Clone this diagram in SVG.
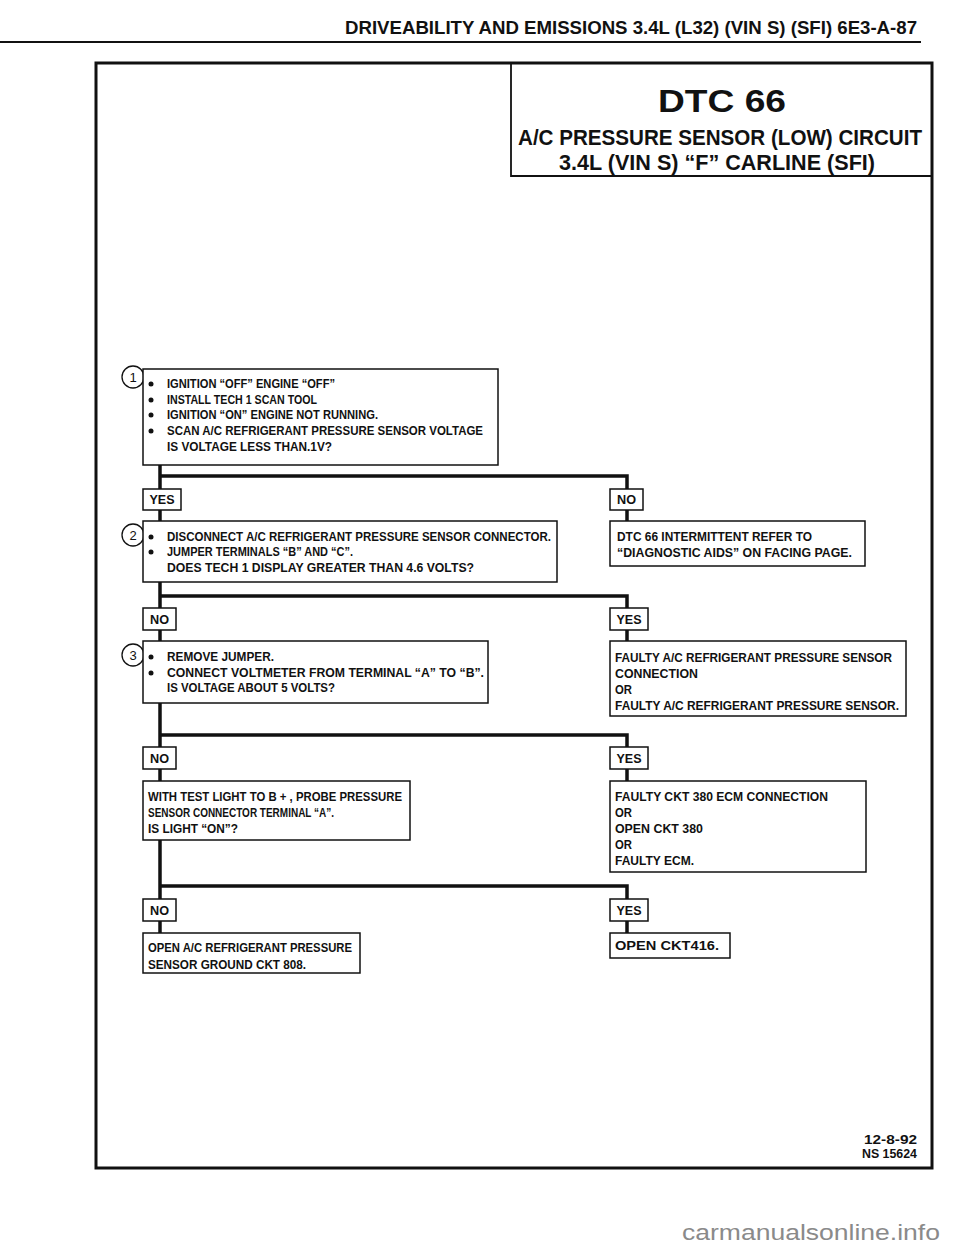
<svg xmlns="http://www.w3.org/2000/svg" width="960" height="1250" viewBox="0 0 960 1250">
<style>
text{font-family:"Liberation Sans",Arial,sans-serif;font-weight:bold;fill:#111}
.t{font-size:12.5px}
.lbl{font-size:12px;text-anchor:middle}
.box{fill:#fff;stroke:#111;stroke-width:1.5}
.conn{stroke:#111;stroke-width:3.5;fill:none}
.circ{fill:#fff;stroke:#111;stroke-width:1.3}
.num{font-size:13px;font-weight:normal;text-anchor:middle}
.dot{fill:#111}
</style>
<rect width="960" height="1250" fill="#fff"/>
<g id="header">
<text x="345" y="34" font-size="19" textLength="572" lengthAdjust="spacingAndGlyphs">DRIVEABILITY AND EMISSIONS  3.4L  (L32)  (VIN S)  (SFI)  6E3-A-87</text>
<line x1="0" y1="42" x2="921" y2="42" stroke="#111" stroke-width="2"/>
</g>
<g id="frame">
<rect x="96" y="63" width="836" height="1105" fill="none" stroke="#111" stroke-width="3"/>
</g>
<g id="title">
<path d="M511 63 V176 H932" fill="none" stroke="#111" stroke-width="1.8"/>
<text x="722" y="112" font-size="32" text-anchor="middle" textLength="128" lengthAdjust="spacingAndGlyphs">DTC 66</text>
<text x="720" y="145" font-size="22" text-anchor="middle" textLength="404" lengthAdjust="spacingAndGlyphs">A/C PRESSURE SENSOR (LOW) CIRCUIT</text>
<text x="717" y="170" font-size="22" text-anchor="middle" textLength="316" lengthAdjust="spacingAndGlyphs">3.4L  (VIN S)  “F”  CARLINE  (SFI)</text>
</g>
<g id="connectors">
<path class="conn" d="M160 465 V521"/>
<path class="conn" d="M160 476 H627 V521"/>
<path class="conn" d="M160 582 V641"/>
<path class="conn" d="M160 596 H627 V641"/>
<path class="conn" d="M160 703 V781"/>
<path class="conn" d="M160 735 H627 V781"/>
<path class="conn" d="M160 840 V933"/>
<path class="conn" d="M160 886 H627 V933"/>
</g>
<g id="step1">
<circle class="circ" cx="133" cy="377" r="11"/>
<text class="num" x="133" y="382">1</text>
<rect class="box" x="143" y="369" width="355" height="96"/>
<circle class="dot" cx="151" cy="384" r="2.5"/><text class="t" x="167" y="388" textLength="168" lengthAdjust="spacingAndGlyphs">IGNITION “OFF” ENGINE “OFF”</text>
<circle class="dot" cx="151" cy="400" r="2.5"/><text class="t" x="167" y="404" textLength="150" lengthAdjust="spacingAndGlyphs">INSTALL TECH 1 SCAN TOOL</text>
<circle class="dot" cx="151" cy="415" r="2.5"/><text class="t" x="167" y="419" textLength="211" lengthAdjust="spacingAndGlyphs">IGNITION “ON” ENGINE NOT RUNNING.</text>
<circle class="dot" cx="151" cy="431" r="2.5"/><text class="t" x="167" y="435" textLength="316" lengthAdjust="spacingAndGlyphs">SCAN A/C REFRIGERANT PRESSURE SENSOR VOLTAGE</text>
<text class="t" x="167" y="451" textLength="165" lengthAdjust="spacingAndGlyphs">IS VOLTAGE LESS THAN.1V?</text>
</g>
<g id="yes1">
<rect class="box" x="143" y="489" width="38" height="21"/>
<text class="lbl" x="162" y="504" textLength="25" lengthAdjust="spacingAndGlyphs">YES</text>
</g>
<g id="no1">
<rect class="box" x="610" y="489" width="33" height="21"/>
<text class="lbl" x="626.5" y="504" textLength="19" lengthAdjust="spacingAndGlyphs">NO</text>
</g>
<g id="step2">
<circle class="circ" cx="133" cy="535" r="11"/>
<text class="num" x="133" y="540">2</text>
<rect class="box" x="143" y="521" width="414" height="61"/>
<circle class="dot" cx="151" cy="537" r="2.5"/><text class="t" x="167" y="541" textLength="384" lengthAdjust="spacingAndGlyphs">DISCONNECT A/C REFRIGERANT PRESSURE SENSOR CONNECTOR.</text>
<circle class="dot" cx="151" cy="552" r="2.5"/><text class="t" x="167" y="556" textLength="186" lengthAdjust="spacingAndGlyphs">JUMPER TERMINALS “B” AND “C”.</text>
<text class="t" x="167" y="572" textLength="307" lengthAdjust="spacingAndGlyphs">DOES TECH 1 DISPLAY GREATER THAN 4.6 VOLTS?</text>
</g>
<g id="intermittent">
<rect class="box" x="610" y="521" width="255" height="45"/>
<text class="t" x="617" y="541" textLength="195" lengthAdjust="spacingAndGlyphs">DTC 66 INTERMITTENT REFER TO</text>
<text class="t" x="617" y="557" textLength="235" lengthAdjust="spacingAndGlyphs">“DIAGNOSTIC AIDS” ON FACING PAGE.</text>
</g>
<g id="no2">
<rect class="box" x="143" y="608" width="33" height="22"/>
<text class="lbl" x="159.5" y="624" textLength="19" lengthAdjust="spacingAndGlyphs">NO</text>
</g>
<g id="yes2">
<rect class="box" x="610" y="608" width="38" height="22"/>
<text class="lbl" x="629" y="624" textLength="25" lengthAdjust="spacingAndGlyphs">YES</text>
</g>
<g id="step3">
<circle class="circ" cx="133" cy="655" r="11"/>
<text class="num" x="133" y="660">3</text>
<rect class="box" x="143" y="641" width="345" height="62"/>
<circle class="dot" cx="151" cy="657" r="2.5"/><text class="t" x="167" y="661" textLength="107" lengthAdjust="spacingAndGlyphs">REMOVE JUMPER.</text>
<circle class="dot" cx="151" cy="673" r="2.5"/><text class="t" x="167" y="677" textLength="317" lengthAdjust="spacingAndGlyphs">CONNECT VOLTMETER FROM TERMINAL “A” TO “B”.</text>
<text class="t" x="167" y="692" textLength="168" lengthAdjust="spacingAndGlyphs">IS VOLTAGE  ABOUT 5 VOLTS?</text>
</g>
<g id="faulty-sensor">
<rect class="box" x="610" y="641" width="296" height="75"/>
<text class="t" x="615" y="662" textLength="277" lengthAdjust="spacingAndGlyphs">FAULTY A/C REFRIGERANT PRESSURE SENSOR</text>
<text class="t" x="615" y="678" textLength="83" lengthAdjust="spacingAndGlyphs">CONNECTION</text>
<text class="t" x="615" y="694" textLength="17" lengthAdjust="spacingAndGlyphs">OR</text>
<text class="t" x="615" y="710" textLength="284" lengthAdjust="spacingAndGlyphs">FAULTY A/C REFRIGERANT PRESSURE SENSOR.</text>
</g>
<g id="no3">
<rect class="box" x="143" y="747" width="33" height="22"/>
<text class="lbl" x="159.5" y="763" textLength="19" lengthAdjust="spacingAndGlyphs">NO</text>
</g>
<g id="yes3">
<rect class="box" x="610" y="747" width="38" height="22"/>
<text class="lbl" x="629" y="763" textLength="25" lengthAdjust="spacingAndGlyphs">YES</text>
</g>
<g id="step4">
<rect class="box" x="143" y="781" width="267" height="59"/>
<text class="t" x="148" y="801" textLength="254" lengthAdjust="spacingAndGlyphs">WITH TEST LIGHT TO B + , PROBE PRESSURE</text>
<text class="t" x="148" y="817" textLength="186" lengthAdjust="spacingAndGlyphs">SENSOR CONNECTOR TERMINAL “A”.</text>
<text class="t" x="148" y="833" textLength="90" lengthAdjust="spacingAndGlyphs">IS LIGHT “ON”?</text>
</g>
<g id="faulty-ckt380">
<rect class="box" x="610" y="781" width="256" height="91"/>
<text class="t" x="615" y="801" textLength="213" lengthAdjust="spacingAndGlyphs">FAULTY CKT 380 ECM CONNECTION</text>
<text class="t" x="615" y="817" textLength="17" lengthAdjust="spacingAndGlyphs">OR</text>
<text class="t" x="615" y="833" textLength="88" lengthAdjust="spacingAndGlyphs">OPEN CKT 380</text>
<text class="t" x="615" y="849" textLength="17" lengthAdjust="spacingAndGlyphs">OR</text>
<text class="t" x="615" y="865" textLength="79" lengthAdjust="spacingAndGlyphs">FAULTY ECM.</text>
</g>
<g id="no4">
<rect class="box" x="143" y="899" width="33" height="22"/>
<text class="lbl" x="159.5" y="915" textLength="19" lengthAdjust="spacingAndGlyphs">NO</text>
</g>
<g id="yes4">
<rect class="box" x="610" y="899" width="38" height="22"/>
<text class="lbl" x="629" y="915" textLength="25" lengthAdjust="spacingAndGlyphs">YES</text>
</g>
<g id="open-ground">
<rect class="box" x="143" y="933" width="217" height="40"/>
<text class="t" x="148" y="952" textLength="204" lengthAdjust="spacingAndGlyphs">OPEN A/C REFRIGERANT PRESSURE</text>
<text class="t" x="148" y="969" textLength="158" lengthAdjust="spacingAndGlyphs">SENSOR GROUND CKT 808.</text>
</g>
<g id="open-ckt416">
<rect class="box" x="610" y="933" width="120" height="25"/>
<text class="t" x="615" y="950" textLength="104" lengthAdjust="spacingAndGlyphs">OPEN CKT416.</text>
</g>
<g id="footer">
<text x="917" y="1144" font-size="13" text-anchor="end" textLength="53" lengthAdjust="spacingAndGlyphs">12-8-92</text>
<text x="917" y="1158" font-size="13" text-anchor="end" textLength="55" lengthAdjust="spacingAndGlyphs">NS 15624</text>
</g>
<g id="watermark">
<text x="682" y="1240" font-size="22" style="font-weight:normal;fill:#8a8a8a" textLength="258" lengthAdjust="spacingAndGlyphs">carmanualsonline.info</text>
</g>
</svg>
